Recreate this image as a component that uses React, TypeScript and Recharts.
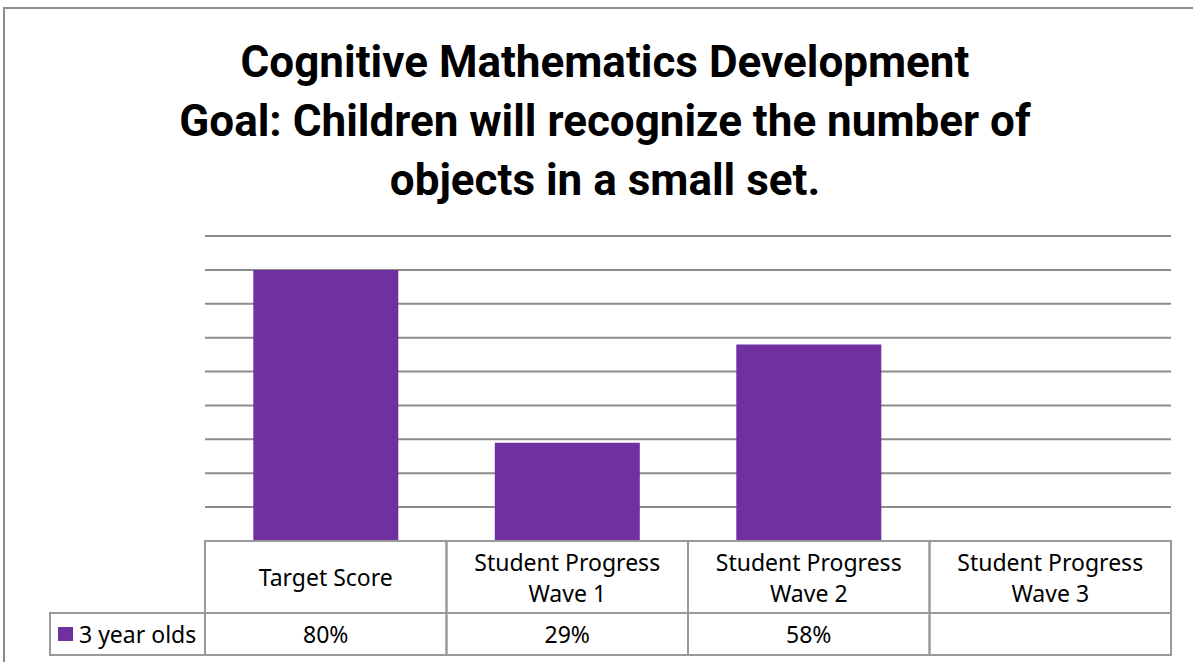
import React from 'react';
import { BarChart, Bar, XAxis, YAxis, CartesianGrid } from 'recharts';

const titleLines = [
  'Cognitive Mathematics Development',
  'Goal: Children will recognize the number of',
  'objects in a small set.',
];
const categories = [
  'Target Score',
  'Student Progress Wave 1',
  'Student Progress Wave 2',
  'Student Progress Wave 3',
];
const headerLines = [
  ['Target Score'],
  ['Student Progress', 'Wave 1'],
  ['Student Progress', 'Wave 2'],
  ['Student Progress', 'Wave 3'],
];
const seriesName = '3 year olds';
const values3YearOlds: (number | null)[] = [80, 29, 58, null];
const valueLabels = ['80%', '29%', '58%', ''];
const yTicks = [0, 10, 20, 30, 40, 50, 60, 70, 80, 90];

const data = categories.map((c, i) => ({ category: c, value: values3YearOlds[i] }));

const CHART_W = 1193;
const CHART_H = 662;
const MARGIN = { top: 236, right: 22, bottom: 7, left: 205 };
const AXIS_H = 114;
const HEADER_H = 72;
const ROW_H = 42;
const LEGEND_W = 155;
const BAND = (CHART_W - MARGIN.left - MARGIN.right) / categories.length;
const BAR_COLOR = '#7030A0';
const LINE_COLOR = '#999999';
const FONT = "'Noto Sans', sans-serif";
const FONT_SIZE = 23;

const TableTick = (props: any) => {
  const { x, y, index } = props;
  const left = x - BAND / 2;
  const lines = headerLines[index] || [];
  const lineGap = 31;
  const headerMid = y + HEADER_H / 2;
  const startY = headerMid - ((lines.length - 1) * lineGap) / 2;
  return (
    <g>
      <rect x={left} y={y} width={BAND} height={HEADER_H} fill="none" stroke={LINE_COLOR} strokeWidth={2} />
      <rect x={left} y={y + HEADER_H} width={BAND} height={ROW_H} fill="none" stroke={LINE_COLOR} strokeWidth={2} />
      {lines.map((l, i) => (
        <text
          key={i}
          x={x}
          y={startY + i * lineGap}
          textAnchor="middle"
          dominantBaseline="central"
          fontFamily={FONT}
          fontSize={FONT_SIZE}
          fill="#000"
        >
          {l}
        </text>
      ))}
      <text
        x={x}
        y={y + HEADER_H + ROW_H / 2}
        textAnchor="middle"
        dominantBaseline="central"
        fontFamily={FONT}
        fontSize={FONT_SIZE}
        fill="#000"
      >
        {valueLabels[index]}
      </text>
      {index === 0 && (
        <g>
          <rect
            x={left - LEGEND_W}
            y={y + HEADER_H}
            width={LEGEND_W}
            height={ROW_H}
            fill="none"
            stroke={LINE_COLOR}
            strokeWidth={2}
          />
          <rect x={left - LEGEND_W + 8} y={y + HEADER_H + 14} width={15} height={14} fill={BAR_COLOR} />
          <text
            x={left - LEGEND_W + 29}
            y={y + HEADER_H + ROW_H / 2}
            dominantBaseline="central"
            fontFamily={FONT}
            fontSize={FONT_SIZE}
            fill="#000"
          >
            {seriesName}
          </text>
        </g>
      )}
    </g>
  );
};

export default function App() {
  return (
    <div
      style={{
        position: 'absolute',
        left: 0,
        top: 0,
        width: CHART_W,
        height: CHART_H,
        overflow: 'hidden',
        background: '#fff',
      }}
    >
      <div
        style={{
          position: 'absolute',
          left: 3,
          top: 7,
          width: 1300,
          height: 800,
          border: '2px solid #8c8c8c',
        }}
      />
      <div
        style={{
          position: 'absolute',
          left: 0,
          top: 33,
          width: 1210,
          textAlign: 'center',
          fontFamily: "Roboto, sans-serif",
          fontWeight: 700,
          fontSize: 44,
          lineHeight: '59px',
          color: '#000',
        }}
      >
        {titleLines.map((t, i) => (
          <div key={i}>{t}</div>
        ))}
      </div>
      <div style={{ position: 'absolute', left: 0, top: 0 }}>
        <BarChart width={CHART_W} height={CHART_H} data={data} margin={MARGIN} barCategoryGap="20%">
          <CartesianGrid vertical={false} stroke="#8c8c8c" strokeWidth={2} />
          <YAxis hide domain={[0, 90]} ticks={yTicks} allowDataOverflow />
          <XAxis
            dataKey="category"
            height={AXIS_H}
            axisLine={false}
            tickLine={false}
            tickSize={0}
            tickMargin={0}
            interval={0}
            tick={<TableTick />}
          />
          <Bar dataKey="value" fill={BAR_COLOR} isAnimationActive={false} />
        </BarChart>
      </div>
    </div>
  );
}
